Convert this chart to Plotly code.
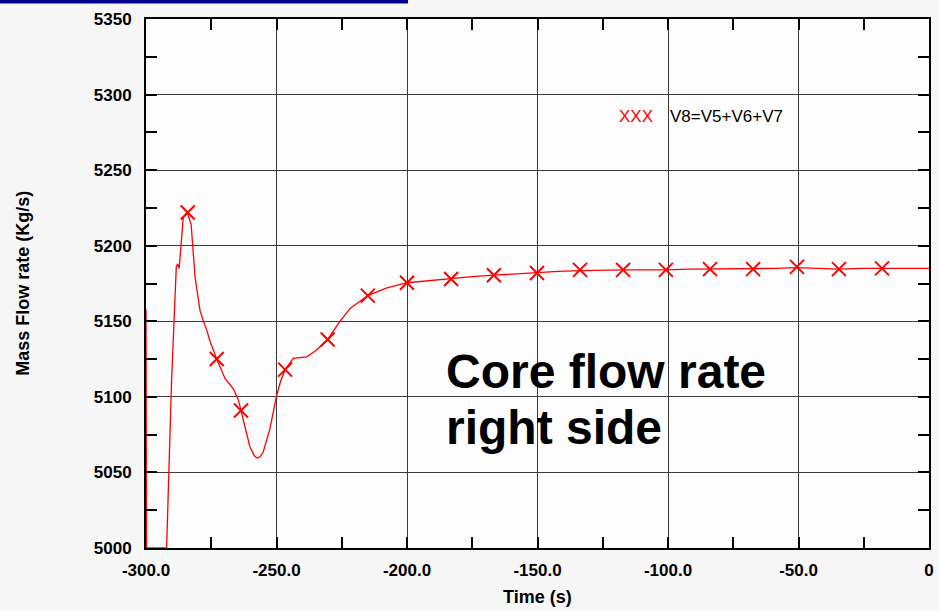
import plotly.graph_objects as go

# ---- data ----
time_s = [-300.0, -299.8, -292.1, -290.2, -288.4, -287.9, -287.3, -285.7, -284.2,
          -282.7, -281.2, -279.3, -278.0, -276.7, -275.3, -274.0, -272.9, -269.7,
          -266.6, -264.6, -263.6, -262.1, -260.2, -258.5, -257.4, -256.2, -255.1,
          -252.5, -250.2, -248.5, -246.7, -243.6, -238.4, -234.6, -230.4, -225.7,
          -221.8, -215.0, -208.0, -200.0, -191.0, -183.0, -175.0, -166.7, -158.0,
          -150.0, -142.0, -133.7, -125.0, -117.2, -109.0, -100.8, -92.0, -83.9,
          -75.0, -67.4, -59.0, -50.6, -42.0, -34.5, -26.0, -18.0, -9.0, 0.0]
flow_kgs = [5158, 5000, 5000, 5111, 5186, 5188, 5185, 5219, 5222,
            5214, 5179, 5157, 5150, 5144, 5136, 5130, 5125, 5112,
            5105.5, 5098, 5091, 5080, 5067, 5061, 5059.5, 5060.5, 5063.5,
            5079, 5099, 5110, 5118, 5125.5, 5126.5, 5131, 5138, 5150,
            5158.5, 5167, 5172, 5175.5, 5177, 5178, 5179.5, 5180.5, 5181.5,
            5182, 5183, 5183.5, 5184, 5184, 5184, 5184, 5184.5, 5184.5,
            5184.5, 5184.5, 5185, 5185.5, 5185, 5184.5, 5185, 5185, 5185, 5185]

marker_time = [-284.0, -272.9, -263.6, -246.7, -230.4, -215.0, -200.0, -183.1, -166.7,
               -150.2, -133.7, -117.2, -100.8, -83.9, -67.4, -50.6, -34.5, -18.0]
marker_flow = [5222, 5125, 5091, 5118, 5138, 5167, 5175.5, 5178, 5180.5,
               5182, 5184, 5184, 5184, 5184.5, 5184.5, 5186, 5184.5, 5185]

x_tick_vals = [-300, -250, -200, -150, -100, -50, 0]
x_tick_text = ["-300.0", "-250.0", "-200.0", "-150.0", "-100.0", "-50.0", "0"]
y_tick_vals = [5000, 5050, 5100, 5150, 5200, 5250, 5300, 5350]
y_tick_text = [str(v) for v in y_tick_vals]

series_name = "V8=V5+V6+V7"
annotation_lines = ["Core flow rate", "right side"]

RED = "#ff0000"
FONT = "Liberation Sans, Arial, sans-serif"

fig = go.Figure()
fig.add_trace(go.Scatter(x=time_s, y=flow_kgs, mode="lines",
                         line=dict(color=RED, width=1.3), showlegend=False,
                         cliponaxis=True))
fig.add_trace(go.Scatter(x=marker_time, y=marker_flow, mode="markers",
                         marker=dict(symbol="x-thin", size=14,
                                     line=dict(color=RED, width=2)),
                         showlegend=False))

axis_common = dict(
    showline=True, linecolor="black", linewidth=2, mirror="ticks",
    ticks="inside", ticklen=11, tickwidth=2, tickcolor="black",
    showgrid=True, gridcolor="#3a3a3a", gridwidth=1, zeroline=False,
    automargin=False,
    tickfont=dict(family=FONT, size=17, color="black", weight="bold"),
    minor=dict(ticks="inside", ticklen=11, tickwidth=2, tickcolor="black",
               showgrid=False),
)

fig.update_xaxes(range=[-300, 0], tickvals=x_tick_vals, ticktext=x_tick_text,
                 minor_dtick=25, minor_tick0=0, ticklabelstandoff=6,
                 **axis_common)
fig.update_yaxes(range=[5000, 5350], tickvals=y_tick_vals, ticktext=y_tick_text,
                 minor_dtick=25, minor_tick0=5000, ticklabelstandoff=9,
                 **axis_common)

PX_X = 783 / 300.0   # px per second
X0 = 146             # px of -300

def xdata(px):
    return -300 + (px - X0) / PX_X

def ydata(py):
    return 5000 + (548 - py) / (529 / 350.0)

annotations = [
    dict(text="Time (s)", xref="paper", yref="paper", x=0.5, y=-0.092,
         xanchor="center", yanchor="middle", showarrow=False,
         font=dict(family=FONT, size=18, color="black", weight="bold")),
    dict(text="Mass Flow rate (Kg/s)", xref="paper", yref="paper",
         x=-0.158, y=0.5, textangle=-90, xanchor="center", yanchor="middle",
         showarrow=False,
         font=dict(family=FONT, size=18, color="black", weight="bold")),
    dict(text="XXX", xref="x", yref="y", x=xdata(655), y=ydata(116),
         xanchor="right", yanchor="middle", showarrow=False,
         font=dict(family=FONT, size=17, color=RED)),
    dict(text=series_name, xref="x", yref="y", x=xdata(668), y=ydata(116),
         xanchor="left", yanchor="middle", showarrow=False,
         font=dict(family=FONT, size=17, color="black")),
    dict(text=annotation_lines[0], xref="x", yref="y", x=xdata(444), y=ydata(371),
         xanchor="left", yanchor="middle", showarrow=False,
         font=dict(family=FONT, size=48, color="black", weight="bold")),
    dict(text=annotation_lines[1], xref="x", yref="y", x=xdata(444), y=ydata(427),
         xanchor="left", yanchor="middle", showarrow=False,
         font=dict(family=FONT, size=48, color="black", weight="bold")),
]

fig.update_layout(
    width=939, height=611, autosize=False,
    margin=dict(l=146, r=10, t=19, b=63),
    paper_bgcolor="#f6f6f6", plot_bgcolor="#fdfdfd",
    annotations=annotations,
    shapes=[dict(type="rect", xref="paper", yref="paper",
                 x0=-146 / 783, x1=(408 - 146) / 783,
                 y0=1 + 15.5 / 529, y1=1 + 19.5 / 529,
                 fillcolor="#00008b", line=dict(width=0), layer="above")],
)

fig.write_html(
    "out.html",
    config={"displayModeBar": False, "responsive": False},
    default_width="939px", default_height="611px",
    post_script="document.body.style.margin='0';document.body.style.overflow='hidden';",
)
